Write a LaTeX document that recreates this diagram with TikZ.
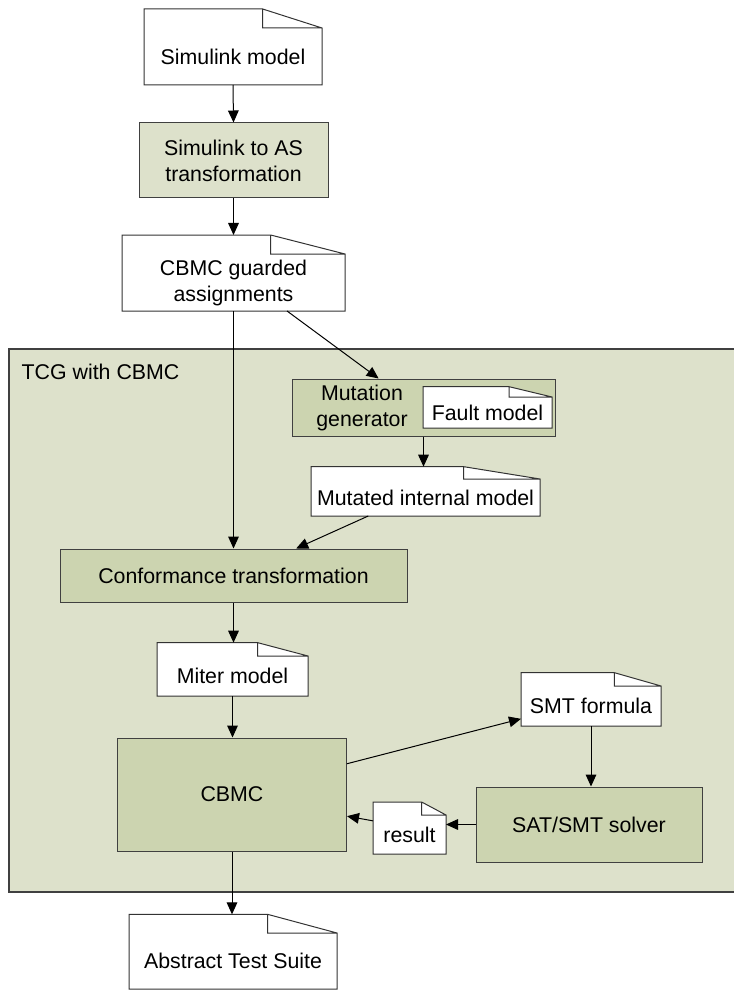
\documentclass[tikz,border=0pt]{standalone}
\usepackage{fontspec}
\setmainfont{Liberation Sans}
\usetikzlibrary{arrows.meta, calc}
\definecolor{panelgreen}{RGB}{221,225,203}
\definecolor{boxgreen}{RGB}{204,212,176}
\tikzset{every node/.style={font=\fontsize{16}{19.5}\selectfont},
         boxsize/.style 2 args={minimum width=#1*0.75pt, minimum height=#2*0.75pt},
         procbox/.style={draw=black!75, fill=boxgreen, line width=0.75pt, align=center, inner sep=0pt},
         docbox/.style={fill=white, outer sep=0pt, inner sep=0pt, align=center},
         docline/.style={draw=black!80, line width=0.75pt, line join=miter},
         arr/.style={-{Triangle[length=9pt,width=8pt]}, line width=0.75pt}}
\begin{document}
\begin{tikzpicture}[x=0.75pt, y=-0.75pt]
\useasboundingbox (0,0) rectangle (734,991);
\clip (0,0) rectangle (734,991);
% TCG panel
\draw[fill=panelgreen, draw=black!75, line width=1pt] (9,349) rectangle (745,892);
\node[anchor=west] (tcglabel) at (17,372) {TCG with CBMC};

% steps
\node[procbox, fill=panelgreen, boxsize={189}{75}] (simtoas) at (233.5,160.5) {Simulink to AS\\transformation};
\node[procbox, boxsize={263}{57}] (mutgen) at (423.5,407.5) {};
\node[align=center] (mutgentext) at (362,407.5) {Mutation\\generator};
\node[procbox, boxsize={347}{53}] (conf) at (233.5,575.5) {Conformance transformation};
\node[procbox, boxsize={229}{113}] (cbmc) at (232,794.5) {CBMC};
\node[procbox, boxsize={226}{75}] (solver) at (589,824.5) {SAT/SMT solver};

% documents
\node[docbox, boxsize={178}{57}] (simmodel) at (233,56.5) {Simulink model};
\node[docbox, boxsize={223}{57}] (guarded) at (233.5,282.5) {CBMC guarded\\assignments};
\node[docbox, boxsize={129}{31}] (fault) at (487.5,412.5) {Fault model};
\node[docbox, boxsize={229}{37}] (mutated) at (425.5,497.5) {Mutated internal model};
\node[docbox, boxsize={151}{40}] (miter) at (232.5,676) {Miter model};
\node[docbox, boxsize={140}{40}] (smt) at (591,706) {SMT formula};
\node[docbox, boxsize={73}{39}] (result) at (409.5,834.5) {result};
\node[docbox, boxsize={208}{56}] (suite) at (233,961) {Abstract Test Suite};

% folded corners
\foreach \doc in {simmodel,guarded,fault,mutated,miter,smt,result,suite}{
  \fill[white] let \p1=(\doc.north west), \p2=(\doc.south east),
      \n1={(\y1-\y2)/3}, \n2={(\x2-\x1)/3} in
    (\x1,{\y1-0.5pt}) -- (\x1,{\y1+\n1}) -- ({\x2-\n2},{\y1+\n1}) -- (\x2,\y1) -- (\x2,{\y1-0.5pt}) -- cycle;
  \draw[docline] let \p1=(\doc.north west), \p2=(\doc.south east), \p3=(\doc.north),
      \n1={(\y1-\y2)/3}, \n2={(\x2-\x1)/3} in
    (\x1,\y2) -- (\x1,{\y1+\n1}) -- ({\x2-\n2},{\y1+\n1}) -- (\x2,\y1) -- (\x2,\y2) -- cycle
    ({\x2-\n2},{\y1+\n1}) |- (\x2,\y1)
    (\x3,{\y1+\n1}) coordinate (\doc-top);
}

% flow
\draw[arr] (simmodel.south) -- (simtoas.north);
\draw[arr] (simtoas.south) -- (guarded-top);
\draw[arr] (guarded.south) -- (conf.north);
\draw[arr] ($(guarded.south west)!0.74!(guarded.south east)$) -- ($(mutgen.north west)!0.33!(mutgen.north east)$);
\draw[arr] (mutgen.south) -- (mutgen.south |- mutated-top);
\draw[arr] ($(mutated.south west)!0.25!(mutated.south east)$) -- ($(conf.north west)!0.68!(conf.north east)$);
\draw[arr] (conf.south) -- (conf.south |- miter-top);
\draw[arr] (miter.south) -- (miter.south |- cbmc.north);
\draw[arr] ($(cbmc.north east)!0.23!(cbmc.south east)$) -- ($(smt.north west)!0.82!(smt.south west)$);
\draw[arr] (smt.south) -- (smt.south |- solver.north);
\draw[arr] (solver.west) -- (solver.west -| result.east);
\draw[arr] ($(result.north west)!0.15!(result.south west)$) -- ($(cbmc.north east)!0.69!(cbmc.south east)$);
\draw[arr] (cbmc.south) -- (cbmc.south |- suite-top);
\end{tikzpicture}
\end{document}
